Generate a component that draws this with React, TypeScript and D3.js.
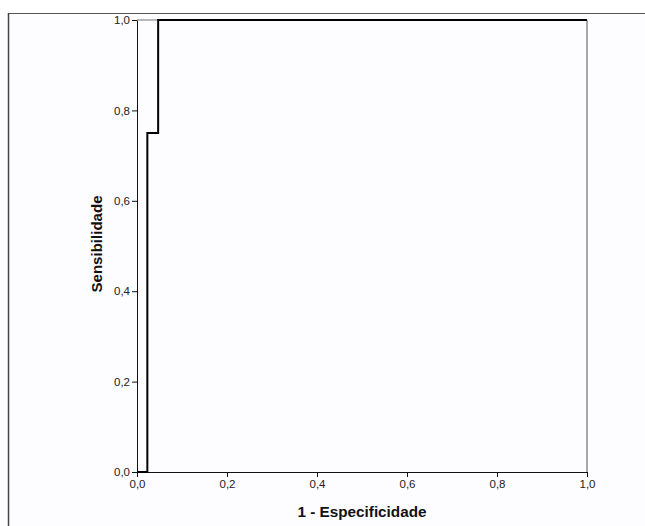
import React, { useEffect, useRef } from 'react';
import * as d3 from 'd3';

// ROC curve steps (1 - especificidade, sensibilidade)
const fpr = [0, 0.023, 0.023, 0.047, 0.047, 1.0];
const tpr = [0, 0, 0.75, 0.75, 1.0, 1.0];
const tickValues = [0, 0.2, 0.4, 0.6, 0.8, 1.0];

const W = 645, H = 526;
const margin = { left: 137, right: 58, top: 20, bottom: 54 };

const fmt = (d: number) => d.toFixed(1).replace('.', ',');

export default function App() {
  const ref = useRef<SVGSVGElement>(null);

  useEffect(() => {
    const svg = d3.select(ref.current);
    svg.selectAll('*').remove();

    const x = d3.scaleLinear().domain([0, 1]).range([margin.left, W - margin.right]);
    const y = d3.scaleLinear().domain([0, 1]).range([H - margin.bottom, margin.top]);

    // background + outer frame
    svg.append('rect').attr('x', 8).attr('y', 13).attr('width', W - 8).attr('height', H - 13).attr('fill', '#fdfcfe');
    svg.append('line').attr('x1', 8).attr('x2', W).attr('y1', 13.5).attr('y2', 13.5).attr('stroke', '#555').attr('stroke-width', 1);
    svg.append('line').attr('x1', 8.5).attr('x2', 8.5).attr('y1', 13).attr('y2', H).attr('stroke', '#444').attr('stroke-width', 1.5);

    // plot frame (top/right)
    svg.append('line').attr('x1', x(0)).attr('x2', x(1)).attr('y1', y(1)).attr('y2', y(1)).attr('stroke', '#777');
    svg.append('line').attr('x1', x(1)).attr('x2', x(1)).attr('y1', y(1)).attr('y2', y(0)).attr('stroke', '#555');

    const xAxis = svg.append('g')
      .attr('transform', `translate(0,${y(0)})`)
      .call(d3.axisBottom(x).tickValues(tickValues).tickFormat(d => fmt(+d)).tickSize(5).tickSizeOuter(0));
    const yAxis = svg.append('g')
      .attr('transform', `translate(${x(0)},0)`)
      .call(d3.axisLeft(y).tickValues(tickValues).tickFormat(d => fmt(+d)).tickSize(5).tickSizeOuter(0));

    [xAxis, yAxis].forEach(a => {
      a.select('.domain').attr('stroke', '#111');
      a.selectAll('.tick line').attr('stroke', '#111');
      a.selectAll('.tick text')
        .attr('font-family', 'Liberation Sans, Arial, sans-serif')
        .attr('font-size', 11.5)
        .attr('fill', '#222');
    });
    xAxis.selectAll('.tick text').attr('dy', '0.9em').attr('y', 6);
    yAxis.selectAll('.tick text').attr('x', -7);

    // ROC step line
    const pts = fpr.map((f, i) => [f, tpr[i]] as [number, number]);
    svg.append('path')
      .datum(pts)
      .attr('d', d3.line<[number, number]>().x(d => x(d[0])).y(d => y(d[1])))
      .attr('fill', 'none')
      .attr('stroke', '#000')
      .attr('stroke-width', 2);

    // axis titles
    svg.append('text')
      .attr('x', (x(0) + x(1)) / 2).attr('y', 517)
      .attr('text-anchor', 'middle')
      .attr('font-family', 'Liberation Sans, Arial, sans-serif')
      .attr('font-weight', 'bold').attr('font-size', 15)
      .attr('textLength', 129).attr('lengthAdjust', 'spacingAndGlyphs')
      .attr('fill', '#111')
      .text('1 - Especificidade');
    svg.append('text')
      .attr('transform', `translate(102,244) rotate(-90)`)
      .attr('text-anchor', 'middle')
      .attr('font-family', 'Liberation Sans, Arial, sans-serif')
      .attr('font-weight', 'bold').attr('font-size', 15.5)
      .attr('textLength', 97).attr('lengthAdjust', 'spacingAndGlyphs')
      .attr('fill', '#111')
      .text('Sensibilidade');
  }, []);

  return (
    <svg ref={ref} width={W} height={H} style={{ position: 'absolute', left: 0, top: 0, background: '#fff' }} />
  );
}
